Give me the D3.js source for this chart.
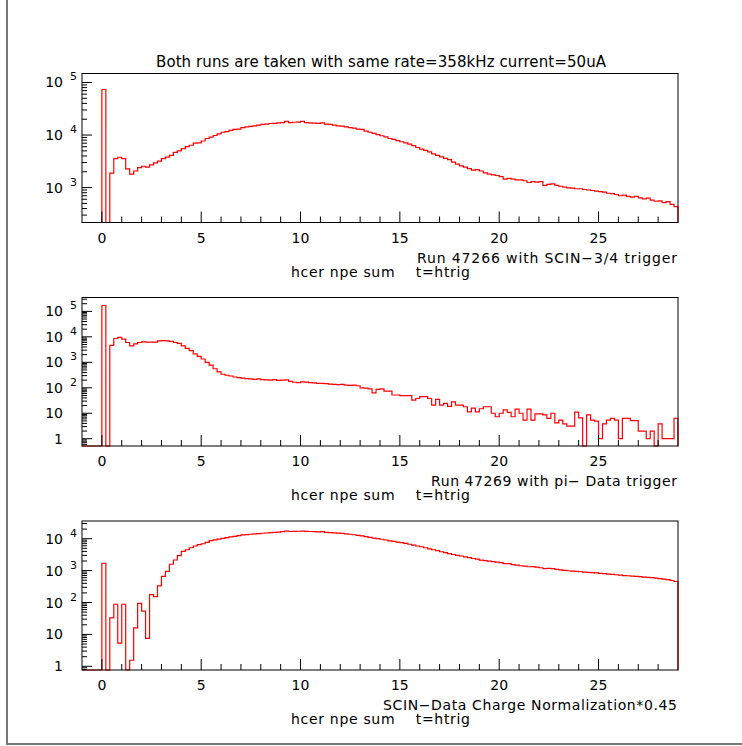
<!DOCTYPE html>
<html>
<head>
<meta charset="utf-8">
<script src="https://cdn.jsdelivr.net/npm/d3@7"></script>
<style>
  body { margin: 0; background: #fff; }
  text { font-family: "DejaVu Sans", sans-serif; fill: #000; }
</style>
</head>
<body>
<script>
// hcer npe sum, bins of 0.2 starting at 0
const binStart = 0;
const binWidth = 0.2;

const run47266 = [
  73600, 0, 1880, 3550, 3780, 3550, 2270, 1800, 2070, 2400,
  2550, 2450, 2700, 2950, 3200, 3550, 3800, 4100, 4700, 5000,
  5500, 6000, 6400, 7000, 7100, 7700, 8600, 9100, 9800, 10500,
  11300, 11600, 12300, 12800, 13000, 13800, 14300, 14600, 15000, 15400,
  15900, 16100, 16600, 16700, 17000, 17200, 18200, 17300, 17500, 17600,
  18200, 17200, 17000, 16900, 16700, 17100, 16200, 15900, 15400, 15000,
  14800, 14300, 13800, 13500, 13000, 12800, 11900, 11300, 10800, 10200,
  9700, 9200, 8600, 8300, 7800, 7460, 7100, 6700, 6300, 5800,
  5400, 5100, 4800, 4400, 4100, 3850, 3600, 3400, 3050, 2800,
  2600, 2450, 2300, 2150, 2200, 2070, 1900, 1800, 1750, 1700,
  1620, 1450, 1500, 1450, 1400, 1400, 1350, 1250, 1300, 1270,
  1300, 1100, 1150, 1180, 1100, 1060, 1020, 990, 980, 950,
  950, 920, 900, 880, 860, 840, 820, 780, 770, 740,
  700, 720, 680, 660, 680, 640, 610, 630, 580, 550,
  560, 520, 540, 480, 435
];

const run47269 = [
  170000, 0, 4600, 8600, 9500, 8100, 6000, 4400, 5300, 6000,
  6300, 6200, 6200, 6200, 6900, 7050, 6900, 6600, 6000, 5500,
  4400, 3500, 2900, 2150, 1700, 1350, 1000, 780, 560, 420,
  340, 310, 290, 265, 250, 240, 230, 222, 215, 225,
  210, 205, 200, 210, 195, 200, 205, 180, 165, 160,
  170, 168, 160, 155, 150, 148, 145, 140, 135, 132,
  135, 128, 125, 127, 120, 100, 97, 90, 63, 87,
  90, 74, 74, 52, 52, 49, 49, 49, 33, 38,
  45, 45, 38, 21, 35, 21, 24.5, 18.5, 28, 21,
  21, 18, 11.4, 16, 11.4, 15, 18, 18, 10, 7.3,
  10, 13.5, 10.8, 7.3, 14.5, 10, 5.4, 14.5, 5.4, 9.5,
  9.5, 8.6, 6.3, 10, 4.2, 5.4, 3.8, 3.1, 3.1, 11,
  6.6, 0, 8.6, 5.4, 4.9, 1, 3.8, 5.4, 6.3, 5.4,
  1, 6.3, 6.3, 5.1, 5.1, 2, 2, 1, 2, 0,
  3.8, 1, 1, 1, 6.3
];

const scinNorm = [
  1700, 0, 33, 88, 5.3, 88, 0, 1.55, 16, 94,
  54, 7.5, 176, 152, 330, 660, 950, 1580, 2150, 2930,
  4000, 4500, 5200, 5900, 6500, 6950, 7700, 8700, 9200, 9700,
  10200, 10800, 11400, 11900, 12500, 13100, 13500, 13800, 14100, 14400,
  14800, 15100, 15500, 15800, 16100, 16600, 17200, 16800, 17000, 17100,
  17400, 16900, 16800, 16600, 16300, 16700, 15800, 15500, 15200, 14900,
  14700, 14200, 13800, 13300, 12800, 12200, 11600, 11000, 10500, 10000,
  9600, 9100, 8600, 8200, 7800, 7500, 7100, 6700, 6300, 5900,
  5600, 5200, 4800, 4500, 4200, 3900, 3650, 3400, 3200, 3000,
  2870, 2700, 2550, 2400, 2300, 2140, 2050, 1980, 1900, 1850,
  1780, 1650, 1650, 1550, 1480, 1420, 1380, 1320, 1340, 1280,
  1230, 1150, 1180, 1160, 1100, 1050, 1020, 990, 970, 940,
  920, 900, 880, 860, 850, 820, 800, 770, 760, 740,
  725, 700, 690, 670, 660, 645, 625, 610, 600, 580,
  560, 540, 520, 490, 455
];

const xTickLabels = [0, 5, 10, 15, 20, 25];
const titleText = 'Both runs are taken with same rate=358kHz current=50uA';
const captions = [
  'Run 47266 with SCIN\u22123/4 trigger',
  'Run 47269 with pi\u2212 Data trigger',
  'SCIN\u2212Data Charge Normalization*0.45'
];
const xTitle = 'hcer npe sum    t=htrig';

const width = 742;
const height = 746;

const svg = d3.select('body').append('svg')
  .attr('width', width)
  .attr('height', height);

svg.append('rect').attr('width', width).attr('height', height).attr('fill', '#fff');

// page border (only left + bottom visible)
svg.append('path')
  .attr('d', 'M7,0V744H742')
  .attr('fill', 'none')
  .attr('stroke', '#777')
  .attr('stroke-width', 2);

svg.append('text')
  .attr('x', 381).attr('y', 66.5)
  .attr('text-anchor', 'middle')
  .attr('font-size', 15)
  .attr('textLength', 450)
  .text(titleText);

const x = d3.scaleLinear().domain([-1, 29]).range([82, 678]);

const panels = [
  { counts: run47266, top: 73.5, bottom: 222.5, logLo: 2.336, logHi: 5.171, capW: 260 },
  { counts: run47269, top: 297.5, bottom: 446, logLo: -0.286, logHi: 5.545, capW: 246 },
  { counts: scinNorm, top: 521, bottom: 670, logLo: -0.116, logHi: 4.555, capW: 294 }
];

panels.forEach((p, k) => {
  const g = svg.append('g');
  const y = d3.scaleLog()
    .domain([Math.pow(10, p.logLo), Math.pow(10, p.logHi)])
    .range([p.bottom, p.top]);
  const yv = (v) => (v < y.domain()[0] ? p.bottom : y(v));

  // histogram outline
  const pts = [[-1, 0]];
  p.counts.forEach((c, i) => pts.push([binStart + i * binWidth, c]));
  pts.push([binStart + p.counts.length * binWidth, 0]);
  const line = d3.line()
    .x((d) => x(d[0]))
    .y((d) => yv(d[1]))
    .curve(d3.curveStepAfter);
  g.append('path')
    .attr('d', line(pts))
    .attr('fill', 'none')
    .attr('stroke', '#ff0000')
    .attr('stroke-width', 1.2);

  // frame
  g.append('rect')
    .attr('x', x(-1)).attr('y', p.top)
    .attr('width', x(29) - x(-1)).attr('height', p.bottom - p.top)
    .attr('fill', 'none')
    .attr('stroke', '#000')
    .attr('stroke-width', 1);

  // x ticks (inside, pointing up)
  d3.range(0, 29, 1).forEach((t) => {
    const major = t % 5 === 0;
    g.append('line')
      .attr('x1', x(t)).attr('x2', x(t))
      .attr('y1', p.bottom).attr('y2', p.bottom - (major ? 11 : 6))
      .attr('stroke', '#000');
  });
  xTickLabels.forEach((t) => {
    g.append('text')
      .attr('x', x(t)).attr('y', p.bottom + 20)
      .attr('text-anchor', 'middle')
      .attr('font-size', 14)
      .text(t);
  });

  // y ticks (log, inside)
  const eLo = Math.floor(p.logLo);
  const eHi = Math.ceil(p.logHi);
  for (let e = eLo; e <= eHi; e++) {
    for (let m = 1; m <= 9; m++) {
      const v = m * Math.pow(10, e);
      if (v < y.domain()[0] || v > y.domain()[1]) continue;
      g.append('line')
        .attr('x1', x(-1)).attr('x2', x(-1) + (m === 1 ? 10 : 5))
        .attr('y1', y(v)).attr('y2', y(v))
        .attr('stroke', '#000');
      if (m === 1) {
        const lab = g.append('text')
          .attr('x', 63).attr('y', y(v) + 5)
          .attr('text-anchor', 'end')
          .attr('font-size', 14)
          .text(e === 0 ? '1' : '10');
        if (e >= 2) {
          g.append('text')
            .attr('x', 70).attr('y', y(v) - 2)
            .attr('font-size', 11)
            .text(e);
        }
      }
    }
  }

  // captions
  g.append('text')
    .attr('x', 677).attr('y', p.bottom + 40)
    .attr('text-anchor', 'end')
    .attr('font-size', 14)
    .attr('textLength', p.capW)
    .text(captions[k]);
  g.append('text')
    .attr('x', 291).attr('y', p.bottom + 54)
    .attr('font-size', 14)
    .attr('textLength', 179)
    .style('white-space', 'pre')
    .text(xTitle);
});
</script>
</body>
</html>
